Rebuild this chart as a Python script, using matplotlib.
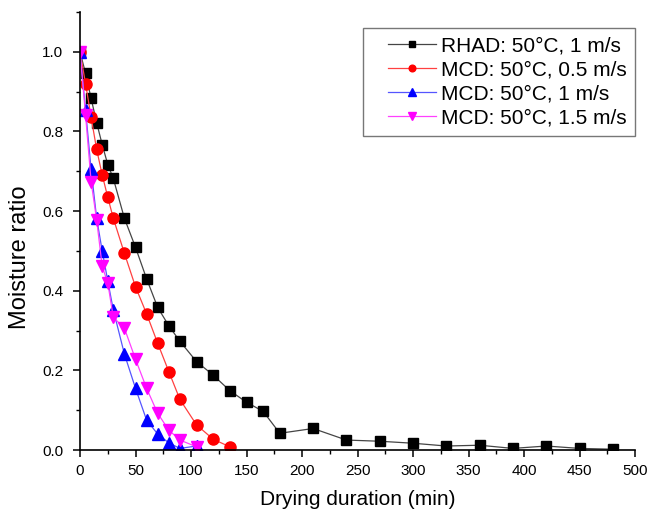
import matplotlib
matplotlib.use("Agg")
import matplotlib.pyplot as plt
from matplotlib.ticker import MultipleLocator
from matplotlib.legend_handler import HandlerLine2D
from matplotlib.lines import Line2D

plt.rcParams['font.family'] = ['Liberation Sans', 'DejaVu Sans']

# Data
rhad_x = [0, 5, 10, 15, 20, 25, 30, 40, 50, 60, 70, 80, 90, 105, 120, 135, 150, 165, 180,
          210, 240, 270, 300, 330, 360, 390, 420, 450, 480]
rhad_y = [1.0, 0.946, 0.883, 0.822, 0.767, 0.717, 0.682, 0.582, 0.509, 0.430, 0.358, 0.312,
          0.273, 0.222, 0.188, 0.149, 0.120, 0.097, 0.042, 0.054, 0.025, 0.022, 0.017,
          0.010, 0.012, 0.004, 0.010, 0.004, 0.002]

mcd05_x = [0, 5, 10, 15, 20, 25, 30, 40, 50, 60, 70, 80, 90, 105, 120, 135]
mcd05_y = [1.0, 0.92, 0.836, 0.755, 0.691, 0.635, 0.582, 0.494, 0.410, 0.342, 0.268,
           0.197, 0.127, 0.063, 0.027, 0.008]

mcd1_x = [0, 5, 10, 15, 20, 25, 30, 40, 50, 60, 70, 80, 90, 105]
mcd1_y = [1.0, 0.854, 0.705, 0.582, 0.500, 0.425, 0.352, 0.241, 0.155, 0.075, 0.040,
          0.018, 0.004, 0.010]

mcd15_x = [0, 5, 10, 15, 20, 25, 30, 40, 50, 60, 70, 80, 90, 105]
mcd15_y = [1.0, 0.842, 0.674, 0.578, 0.461, 0.420, 0.333, 0.306, 0.228, 0.155, 0.092,
           0.050, 0.025, 0.008]

labels = ["RHAD: 50\u00b0C, 1 m/s", "MCD: 50\u00b0C, 0.5 m/s",
          "MCD: 50\u00b0C, 1 m/s", "MCD: 50\u00b0C, 1.5 m/s"]


class ShortHandler(HandlerLine2D):
    def create_artists(self, legend, orig_handle, xdescent, ydescent, width, height,
                       fontsize, trans):
        shift = width * 0.26
        return super().create_artists(legend, orig_handle, xdescent - shift, ydescent,
                                      width - shift, height, fontsize, trans)


fig = plt.figure(figsize=(6.62, 5.11), dpi=100)
ax = fig.add_axes([80/662, 1-450/511, (635-80)/662, (450-12)/511])

ax.plot(rhad_x, rhad_y, color='#454545', lw=0.9, marker='s', ms=7, mfc='black', mec='black',
        label=labels[0])
ax.plot(mcd05_x, mcd05_y, color='#ff4040', lw=0.9, marker='o', ms=8, mfc='red', mec='red',
        label=labels[1])
ax.plot(mcd1_x, mcd1_y, color='#5555ff', lw=0.9, marker='^', ms=8.5, mfc='blue', mec='blue',
        label=labels[2])
ax.plot(mcd15_x, mcd15_y, color='#ff40ff', lw=0.9, marker='v', ms=8.5, mfc='magenta',
        mec='magenta', label=labels[3])

ax.set_xlim(0, 500)
ax.set_ylim(0, 1.1)
ax.xaxis.set_major_locator(MultipleLocator(50))
ax.xaxis.set_minor_locator(MultipleLocator(25))
ax.yaxis.set_minor_locator(MultipleLocator(0.1))
ax.set_yticks([0.0, 0.2, 0.4, 0.6, 0.8, 1.0])
ax.set_yticklabels(['0.0', '0.2', '0.4', '0.6', '0.8', '1.0'])

for s in ['top', 'right']:
    ax.spines[s].set_visible(False)
for s in ['left', 'bottom']:
    ax.spines[s].set_linewidth(1.2)

ax.tick_params(which='major', direction='out', length=5, width=1.1, labelsize=11)
ax.tick_params(axis='x', which='major', pad=5)
ax.tick_params(axis='y', which='major', pad=7)
ax.tick_params(which='minor', direction='out', length=3, width=1.0)

ax.set_xlabel("Drying duration (min)", fontsize=15, labelpad=9)
ax.set_ylabel("Moisture ratio", fontsize=17, va='center')
ax.yaxis.set_label_coords((20-80)/555, (450-257)/438)

handles, lbls = ax.get_legend_handles_labels()
leg = ax.legend(handles, lbls, loc='upper right', bbox_to_anchor=(1.0, (450-28)/438),
                borderaxespad=0, fontsize=15, markerscale=0.6, handlelength=3.1,
                frameon=True, fancybox=False, borderpad=0.4, labelspacing=0.24,
                handletextpad=0.25,
                handler_map={Line2D: ShortHandler()})
leg.get_frame().set_edgecolor('#555555')
leg.get_frame().set_linewidth(1.0)

fig.savefig("out.png", dpi=100)
